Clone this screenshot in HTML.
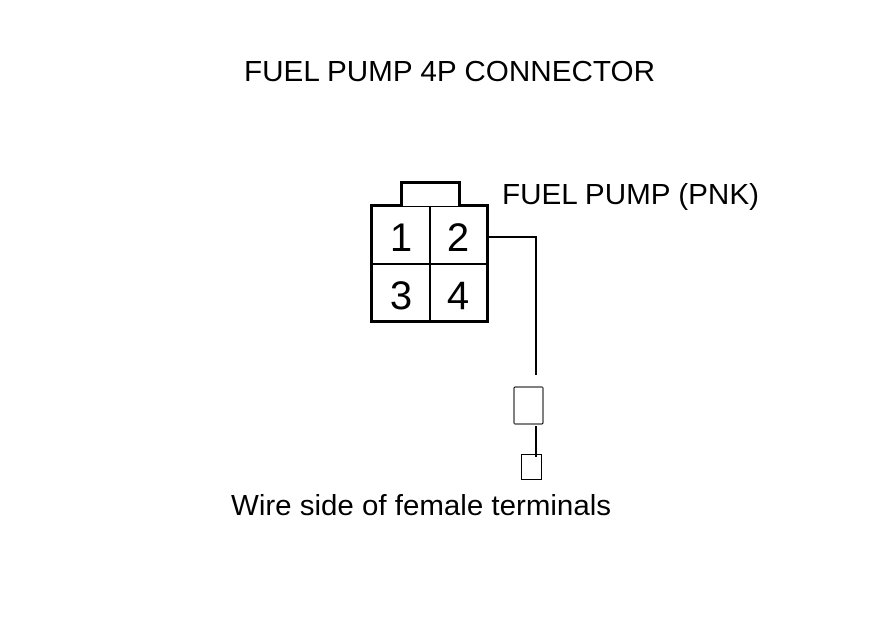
<!DOCTYPE html>
<html>
<head>
<meta charset="utf-8">
<style>
html,body{margin:0;padding:0;background:#fff;width:880px;height:630px;overflow:hidden}
svg{display:block}
text{font-family:"Liberation Sans",Arial,sans-serif;fill:#000}
</style>
</head>
<body>
<svg width="880" height="630" viewBox="0 0 880 630" xmlns="http://www.w3.org/2000/svg" shape-rendering="crispEdges">
<rect width="880" height="630" fill="#fff"/>
<text x="244" y="81" font-size="29" textLength="411" lengthAdjust="spacingAndGlyphs">FUEL PUMP 4P CONNECTOR</text>
<text x="502" y="204" font-size="29" textLength="257" lengthAdjust="spacingAndGlyphs">FUEL PUMP (PNK)</text>
<text x="231" y="515" font-size="29" textLength="380" lengthAdjust="spacingAndGlyphs">Wire side of female terminals</text>

<path d="M403 205.5H371.5V321.5H487.5V205.5H458" fill="none" stroke="#000" stroke-width="3"/>
<path d="M401.5 205V182.5H459.5V205" fill="none" stroke="#000" stroke-width="3"/>
<rect x="403" y="206" width="55" height="1" fill="#000"/>
<rect x="429" y="206" width="2" height="115" fill="#000"/>
<rect x="372" y="263" width="115" height="2" fill="#000"/>

<text x="401" y="251" font-size="40" text-anchor="middle">1</text>
<text x="458" y="251" font-size="40" text-anchor="middle">2</text>
<text x="401" y="309" font-size="40" text-anchor="middle">3</text>
<text x="458" y="309" font-size="40" text-anchor="middle">4</text>

<path d="M488 237H536V375" fill="none" stroke="#000" stroke-width="2"/>
<rect x="514" y="387" width="29" height="37" rx="1.5" fill="none" stroke="#000" stroke-width="1"/>
<rect x="535" y="426" width="2" height="31" fill="#000"/>
<rect x="521.5" y="454.5" width="20" height="25" fill="none" stroke="#000" stroke-width="1"/>
</svg>
</body>
</html>
